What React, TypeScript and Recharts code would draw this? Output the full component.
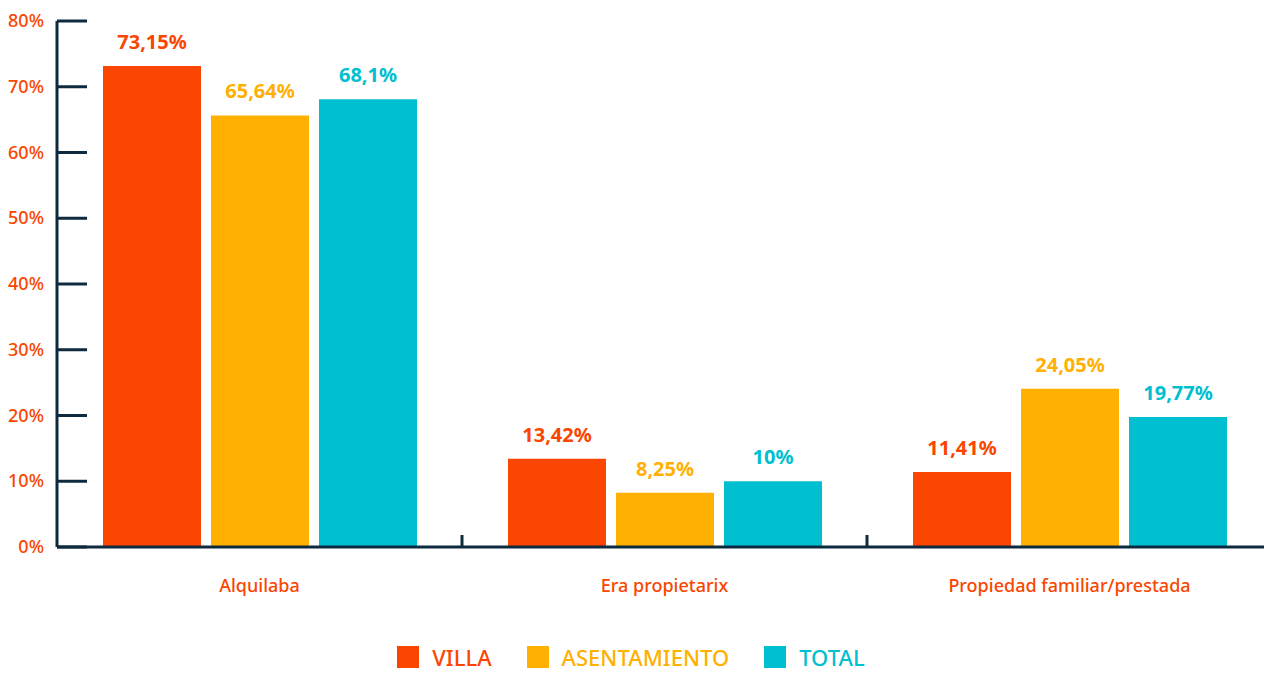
import React from 'react';
import { BarChart, Bar, XAxis, YAxis, LabelList, Legend } from 'recharts';

const categories = ['Alquilaba', 'Era propietarix', 'Propiedad familiar/prestada'];
const villa = [73.15, 13.42, 11.41];
const asentamiento = [65.64, 8.25, 24.05];
const total = [68.1, 10, 19.77];
const yTicks = [0, 10, 20, 30, 40, 50, 60, 70, 80];

const SERIES = [
  { key: 'villa', name: 'VILLA', color: '#FA4600' },
  { key: 'asentamiento', name: 'ASENTAMIENTO', color: '#FFB000' },
  { key: 'total', name: 'TOTAL', color: '#00BFD0' },
];

const AXIS_COLOR = '#0E2A3E';
const TEXT_COLOR = '#FA4600';
const FONT = '"Noto Sans", sans-serif';

const CHART_W = 1280;
const CHART_H = 673;
const Y_AXIS_W = 57;
const MARGIN = { top: 21, right: 8, left: 0, bottom: 0 };
const BAND = (CHART_W - Y_AXIS_W - MARGIN.left - MARGIN.right) / categories.length;

const data = categories.map((name, i) => ({
  name,
  villa: villa[i],
  asentamiento: asentamiento[i],
  total: total[i],
}));

const fmt = (v: any) => `${String(v).replace('.', ',')}%`;

const YTick = (props: any) => {
  const { x, y, payload } = props;
  const axisX = x + 13;
  return (
    <g>
      <line x1={axisX} x2={axisX + 30} y1={y} y2={y} stroke={AXIS_COLOR} strokeWidth={3} />
      <text x={x} y={y} dy={6} textAnchor="end" fill={TEXT_COLOR} fontSize={18} fontFamily={FONT} fontWeight={500}>
        {payload.value}%
      </text>
    </g>
  );
};

const XTick = (props: any) => {
  const { x, y, payload, index } = props;
  const axisY = y - 2;
  const left = x - BAND / 2;
  return (
    <g>
      {index > 0 && (
        <line x1={left} x2={left} y1={axisY - 12} y2={axisY} stroke={AXIS_COLOR} strokeWidth={3} />
      )}
      <text x={x} y={axisY + 45} textAnchor="middle" fill={TEXT_COLOR} fontSize={18} fontFamily={FONT} fontWeight={500}>
        {payload.value}
      </text>
    </g>
  );
};

const LegendContent = () => (
  <div
    style={{
      display: 'flex',
      justifyContent: 'center',
      gap: 35,
      fontFamily: FONT,
      paddingRight: 10,
      paddingTop: 22,
    }}
  >
    {SERIES.map((s) => (
      <div key={s.key} style={{ display: 'flex', alignItems: 'center', gap: 13 }}>
        <div style={{ width: 22, height: 22, background: s.color }} />
        <span style={{ color: s.color, fontSize: 22, fontWeight: 500, lineHeight: '24px' }}>{s.name}</span>
      </div>
    ))}
  </div>
);

export default function App() {
  return (
    <div style={{ position: 'absolute', left: 0, top: 0, width: 1264, height: 673, overflow: 'hidden', background: '#fff' }}>
      <BarChart width={CHART_W} height={CHART_H} data={data} margin={MARGIN} barSize={98} barGap={10}>
        <YAxis
          width={Y_AXIS_W}
          domain={[0, 80]}
          ticks={yTicks}
          interval={0}
          tickSize={0}
          tickMargin={13}
          tickLine={false}
          axisLine={{ stroke: AXIS_COLOR, strokeWidth: 3 }}
          tick={<YTick />}
        />
        <XAxis
          dataKey="name"
          height={76}
          tickSize={0}
          tickLine={false}
          axisLine={{ stroke: AXIS_COLOR, strokeWidth: 3 }}
          tick={<XTick />}
        />
        <Legend verticalAlign="bottom" height={50} content={<LegendContent />} />
        {SERIES.map((s) => (
          <Bar key={s.key} dataKey={s.key} name={s.name} fill={s.color} isAnimationActive={false}>
            <LabelList
              dataKey={s.key}
              position="top"
              offset={17}
              formatter={fmt}
              fill={s.color}
              fontSize={20}
              fontWeight={700}
              fontFamily={FONT}
            />
          </Bar>
        ))}
      </BarChart>
    </div>
  );
}
